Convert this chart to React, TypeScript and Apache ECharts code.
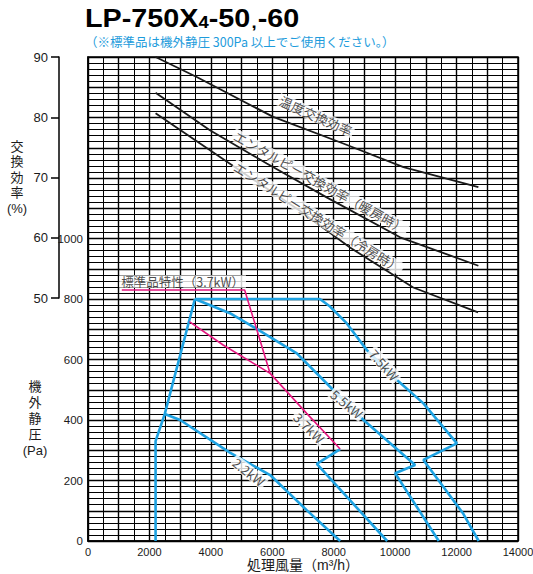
import React, { useEffect, useRef } from "react";
import * as echarts from "echarts";

// ---- axis labels ----
const xLabelValues = [0, 2000, 4000, 6000, 8000, 10000, 12000, 14000];
const paLabelValues = [0, 200, 400, 600, 800, 1000];
const effLabelValues = [50, 60, 70, 80, 90];

// ---- efficiency curves (x: m3/h, y: %) ----
const tempEff: number[][] = [
  [2200, 90], [3540, 86.7], [6030, 80.1], [8310, 75.7], [10270, 71.8], [12710, 68.5],
];
const heatEff: number[][] = [
  [2200, 84.1], [3970, 77.9], [5820, 72.4], [7770, 66.8], [10160, 60.2], [12710, 55.5],
];
const coolEff: number[][] = [
  [2200, 80.7], [3650, 75.7], [5280, 70.1], [6900, 64.6], [8530, 58.5], [10590, 51.9], [12700, 47.8],
];

// ---- static pressure curves (x: m3/h, y: Pa) ----
const leftLimit: number[][] = [[2200, 0], [2200, 330], [2500, 420], [3480, 800]];
const kw22: number[][] = [[2500, 420], [3000, 400], [4620, 292], [5930, 218], [7120, 102], [8210, 0]];
const kw37: number[][] = [[3300, 725], [4400, 648], [5930, 554], [7120, 422], [8210, 304]];
const kw37Tail: number[][] = [[8210, 304], [7450, 255], [9740, 0]];
const kw55: number[][] = [
  [3480, 800], [4080, 775], [4620, 753], [5380, 708], [6800, 620], [7880, 510], [8970, 400], [10650, 251], [10000, 224], [11420, 0],
];
const kw75: number[][] = [
  [3480, 800], [7550, 800], [7880, 775], [8420, 720], [9080, 631], [9940, 543], [10920, 455], [12010, 323], [10920, 268], [12220, 90], [12720, 0],
];
const stdLine: number[][] = [[1100, 830], [5100, 830], [5930, 554]];

// ---- annotation texts ----
const effNames = ["温度交換効率", "エンタルピー交換効率（暖房時）", "エンタルピー交換効率（冷房時）"];
const effNamePos: number[][] = [[7420, 80.3], [7560, 69.3], [7480, 63.5]];
const effNameRot = [-24, -29, -32];
const kwNames = ["7.5kW", "5.5kW", "3.7kW", "2.2kW"];
const kwNamePos: number[][] = [[9640, 582], [8430, 453], [7200, 374], [5240, 228]];
const kwNameRot = [-49, -40, -45, -38];
const stdName = "標準品特性（3.7kW）";
const stdNamePos: number[] = [3080, 858];
const effAxisName = ["交", "換", "効", "率", "(%)"];
const paAxisName = ["機", "外", "静", "圧", "(Pa)"];
const xAxisName = "処理風量（m³/h）";

const FONT = "'Liberation Sans', 'Noto Sans CJK JP', sans-serif";
const JFONT = "'Noto Sans CJK JP', 'Liberation Sans', sans-serif";
const BLUE = "#1ea2e2";
const PINK = "#e4167f";
const INK = "#1a1a1a";

export default function App() {
  const ref = useRef<HTMLDivElement>(null);
  useEffect(() => {
    document.body.style.margin = "0";
    if (!ref.current) return;
    const chart = echarts.init(ref.current, null, { renderer: "svg" });

    const lineS = (data: number[][], color: string, width: number, yIdx: number, z = 3) => ({
      type: "line",
      data,
      xAxisIndex: 0,
      yAxisIndex: yIdx,
      symbol: "none",
      silent: true,
      z,
      lineStyle: { color, width },
    });

    const labelStyle = (fontSize: number) => ({
      show: true,
      position: "inside",
      align: "center",
      verticalAlign: "middle",
      formatter: "{b}",
      color: INK,
      fontSize,
      fontFamily: JFONT,
      backgroundColor: "#fff",
      padding: [0, 2],
    });

    const stackText = (chars: string[], cx: number, top: number, step: number) =>
      chars.map((c, i) => ({
        type: "text",
        x: cx,
        y: top + i * step,
        style: {
          text: c,
          fontSize: 13,
          lineHeight: 14,
          fontFamily: FONT,
          fill: INK,
          textAlign: "center",
          textVerticalAlign: "top",
        },
      }));

    chart.setOption({
      animation: false,
      backgroundColor: "#fff",
      grid: [
        { left: 88, right: 15, top: 57, bottom: 33, show: true, borderColor: "#000", borderWidth: 1.5, backgroundColor: "#fff", outerBoundsMode: "none", containLabel: false },
        { left: 59, width: 1, top: 57, height: 241, show: false, outerBoundsMode: "none", containLabel: false },
      ],
      xAxis: [
        {
          gridIndex: 0,
          type: "value",
          min: 0,
          max: 14000,
          interval: 1000,
          axisLine: { show: true, lineStyle: { color: "#000", width: 1.5 } },
          axisTick: { show: false },
          axisLabel: {
            formatter: (v: number) => (xLabelValues.includes(v) ? String(v) : ""),
            color: INK,
            fontSize: 11,
            fontFamily: FONT,
            margin: 5,
          },
          splitLine: { show: true, lineStyle: { color: "#000", width: 1.4 } },
          minorTick: { show: false, splitNumber: 2 },
          minorSplitLine: { show: true, lineStyle: { color: "#000", width: 1 } },
        },
        { gridIndex: 1, type: "value", min: 0, max: 1, show: false },
      ],
      yAxis: [
        {
          gridIndex: 0,
          type: "value",
          min: 0,
          max: 1600,
          interval: 100,
          axisLine: { show: true, lineStyle: { color: "#000", width: 1.5 } },
          axisTick: { show: false },
          axisLabel: {
            formatter: (v: number) => (paLabelValues.includes(v) ? String(v) : ""),
            color: INK,
            fontSize: 11.5,
            fontFamily: FONT,
            margin: 5,
          },
          splitLine: { show: true, lineStyle: { color: "#000", width: 1.3 } },
          minorTick: { show: false, splitNumber: 5 },
          minorSplitLine: { show: true, lineStyle: { color: "#000", width: 1 } },
        },
        {
          gridIndex: 1,
          type: "value",
          min: 50,
          max: 90,
          interval: 10,
          position: "left",
          axisLine: { show: true, lineStyle: { color: "#000", width: 1.5 } },
          axisTick: { show: true, inside: false, length: 8, lineStyle: { color: "#000", width: 1.5 } },
          axisLabel: {
            formatter: (v: number) => (effLabelValues.includes(v) ? String(v) : ""),
            color: INK,
            fontSize: 13,
            fontFamily: FONT,
            margin: 11,
          },
          splitLine: { show: false },
        },
        { gridIndex: 0, type: "value", min: 10, max: 90, show: false },
      ],
      graphic: [
        {
          type: "text",
          x: 85,
          y: 6,
          scaleX: 1.15,
          style: {
            text: "{a|LP-750X}{b|4}{a|-50}{c|,}{a|-60}",
            rich: {
              a: { fontSize: 25, fontWeight: "bold", fontFamily: FONT, fill: "#000" },
              b: { fontSize: 16, fontWeight: "bold", fontFamily: FONT, fill: "#000", verticalAlign: "bottom", padding: [0, 0, 1, 0] },
              c: { fontSize: 16, fontWeight: "bold", fontFamily: FONT, fill: "#000", verticalAlign: "bottom", padding: [0, 1, 1, 1] },
            },
          },
        },
        {
          type: "text",
          x: 85,
          y: 35,
          style: {
            text: "（※標準品は機外静圧 300Pa 以上でご使用ください。）",
            fontSize: 12.5,
            fontFamily: JFONT,
            fill: "#1e9cdc",
          },
        },
        {
          type: "text",
          x: 303,
          y: 565,
          style: {
            text: xAxisName,
            fontSize: 14,
            lineHeight: 16,
            fontFamily: FONT,
            fill: INK,
            textAlign: "center",
            textVerticalAlign: "middle",
          },
        },
        ...stackText(effAxisName, 17, 139, 15.5),
        ...stackText(paAxisName, 35, 379, 16),
      ],
      series: [
        lineS(tempEff, INK, 1.8, 2),
        lineS(heatEff, INK, 1.8, 2),
        lineS(coolEff, INK, 1.8, 2),
        lineS(leftLimit, BLUE, 2.6, 0),
        lineS(kw22, BLUE, 2.6, 0),
        lineS(kw37Tail, BLUE, 2.6, 0),
        lineS(kw55, BLUE, 2.6, 0),
        lineS(kw75, BLUE, 2.6, 0),
        lineS(kw37, PINK, 1.6, 0, 4),
        lineS(stdLine, PINK, 1.6, 0, 4),
        {
          type: "scatter",
          xAxisIndex: 0,
          yAxisIndex: 2,
          symbolSize: 0,
          silent: true,
          z: 10,
          label: labelStyle(13),
          data: effNames.map((n, i) => ({ name: n, value: effNamePos[i], label: { rotate: effNameRot[i] } })),
        },
        {
          type: "scatter",
          xAxisIndex: 0,
          yAxisIndex: 0,
          symbolSize: 0,
          silent: true,
          z: 10,
          label: labelStyle(13),
          data: [
            ...kwNames.map((n, i) => ({ name: n, value: kwNamePos[i], label: { rotate: kwNameRot[i] } })),
            { name: stdName, value: stdNamePos, label: { rotate: 0, fontSize: 12.5 } },
          ],
        },
      ],
    });
    return () => chart.dispose();
  }, []);
  return <div ref={ref} style={{ width: 533, height: 574 }} />;
}
